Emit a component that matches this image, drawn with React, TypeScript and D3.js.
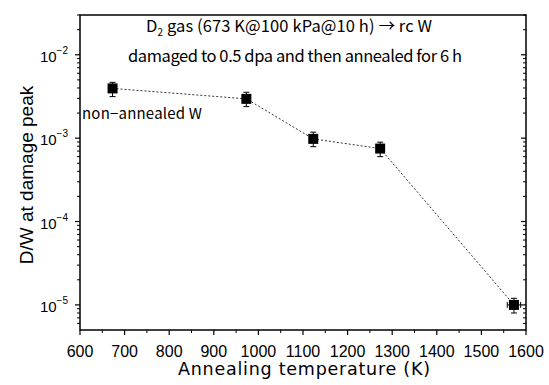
import React from 'react';
import * as d3 from 'd3';

// annealing temperature (K) and D/W at damage peak
const temps = [673, 973, 1123, 1273, 1573];
const dw = [3.95e-3, 2.96e-3, 9.8e-4, 7.5e-4, 1.0e-5];
const dwLow = [3.15e-3, 2.39e-3, 7.9e-4, 6.0e-4, 8.0e-6];
const dwHigh = [4.67e-3, 3.55e-3, 1.18e-3, 8.95e-4, 1.2e-5];
const tempErr = [0, 0, 0, 0, 15];

const xTicks = [600, 700, 800, 900, 1000, 1100, 1200, 1300, 1400, 1500, 1600];
const decades = [-5, -4, -3, -2];

const W = 549;
const H = 385;
const margin = { top: 15, right: 23, bottom: 55, left: 80 };

const labelFont = '"Liberation Sans", Arial, sans-serif';
const jpFont = '"Noto Sans CJK JP", "Liberation Sans", sans-serif';

const App = () => {
  const x = d3.scaleLinear().domain([600, 1600]).range([margin.left, W - margin.right]);
  const y = d3.scaleLog().domain([5e-6, 3e-2]).range([H - margin.bottom, margin.top]);

  const [x0, x1] = x.range();
  const [y0, y1] = y.range();

  // minor ticks on the log axis (2..9 of each decade) inside the domain
  const minor: number[] = [];
  for (let e = -6; e <= -2; e++) {
    for (let m = 2; m <= 9; m++) {
      const v = m * Math.pow(10, e);
      if (v >= 5e-6 && v <= 3e-2) minor.push(v);
    }
  }
  const xMinor = d3.range(650, 1600, 100);

  const line = d3.line<number>()
    .x((_, i) => x(temps[i]))
    .y((d) => y(d));

  return (
    <svg width={W} height={H} style={{ display: 'block', position: 'absolute', left: 0, top: 0 }}>
      <rect width={W} height={H} fill="#fff" />

      {/* frame */}
      <rect x={x0} y={y1} width={x1 - x0} height={y0 - y1} fill="none" stroke="#000" strokeWidth={1.5} />

      {/* left axis ticks (outward), right axis ticks (inward) */}
      {decades.map((e) => (
        <g key={'d' + e}>
          <line x1={x0 - 5} x2={x0} y1={y(Math.pow(10, e))} y2={y(Math.pow(10, e))} stroke="#000" strokeWidth={1.2} />
          <line x1={x1 - 5} x2={x1} y1={y(Math.pow(10, e))} y2={y(Math.pow(10, e))} stroke="#000" strokeWidth={1.2} />
          <text x={x0 - 12} y={y(Math.pow(10, e)) + 7} textAnchor="end" fontFamily={labelFont} fontSize={15}>
            10
            <tspan dy={-8} fontSize={10}>{'\u2212' + Math.abs(e)}</tspan>
          </text>
        </g>
      ))}
      {minor.map((v) => (
        <g key={'m' + v}>
          <line x1={x0 - 3} x2={x0} y1={y(v)} y2={y(v)} stroke="#000" strokeWidth={1} />
          <line x1={x1 - 3} x2={x1} y1={y(v)} y2={y(v)} stroke="#000" strokeWidth={1} />
        </g>
      ))}

      {/* bottom axis */}
      {xTicks.map((t) => (
        <g key={'x' + t}>
          <line x1={x(t)} x2={x(t)} y1={y0} y2={y0 + 5} stroke="#000" strokeWidth={1.2} />
          <text x={x(t)} y={y0 + 27} textAnchor="middle" fontFamily={labelFont} fontSize={16}>{t}</text>
        </g>
      ))}
      {xMinor.map((t) => (
        <line key={'xm' + t} x1={x(t)} x2={x(t)} y1={y0} y2={y0 + 3} stroke="#000" strokeWidth={1} />
      ))}

      {/* data */}
      <path d={line(dw) || ''} fill="none" stroke="#333" strokeWidth={1} strokeDasharray="2,2" />
      {dw.map((d, i) => (
        <g key={'p' + i}>
          <line x1={x(temps[i])} x2={x(temps[i])} y1={y(dwLow[i])} y2={y(dwHigh[i])} stroke="#000" strokeWidth={1} />
          <line x1={x(temps[i]) - 3} x2={x(temps[i]) + 3} y1={y(dwLow[i])} y2={y(dwLow[i])} stroke="#000" strokeWidth={1} />
          <line x1={x(temps[i]) - 3} x2={x(temps[i]) + 3} y1={y(dwHigh[i])} y2={y(dwHigh[i])} stroke="#000" strokeWidth={1} />
          {tempErr[i] > 0 && (
            <g>
              <line x1={x(temps[i] - tempErr[i])} x2={x(temps[i] + tempErr[i])} y1={y(d)} y2={y(d)} stroke="#000" strokeWidth={1} />
              <line x1={x(temps[i] + tempErr[i])} x2={x(temps[i] + tempErr[i])} y1={y(d) - 3} y2={y(d) + 3} stroke="#000" strokeWidth={1} />
              <line x1={x(temps[i] - tempErr[i])} x2={x(temps[i] - tempErr[i])} y1={y(d) - 3} y2={y(d) + 3} stroke="#000" strokeWidth={1} />
            </g>
          )}
          <rect x={x(temps[i]) - 5} y={y(d) - 5} width={10} height={10} fill="#000" />
        </g>
      ))}

      {/* annotations */}
      <text x={146} y={32} fontFamily={jpFont} fontSize={16.5} textLength={286} lengthAdjust="spacing">
        D<tspan dy={4} fontSize={10}>2</tspan>
        <tspan dy={-4}> gas (673 K@100 kPa@10 h) → rc W</tspan>
      </text>
      <text x={128} y={62} fontFamily={jpFont} fontSize={16.5} textLength={334} lengthAdjust="spacing">
        damaged to 0.5 dpa and then annealed for 6 h
      </text>
      <text x={82} y={119} fontFamily={jpFont} fontSize={15} textLength={120} lengthAdjust="spacing">non−annealed W</text>

      {/* axis titles */}
      <text x={178} y={375} fontFamily={'"DejaVu Sans", sans-serif'} fontSize={17.5} textLength={252} lengthAdjust="spacing">Annealing temperature (K)</text>
      <text transform={`translate(33, 175) rotate(-90)`} textAnchor="middle" fontFamily={labelFont} fontSize={19}>
        D/W at damage peak
      </text>
    </svg>
  );
};

export default App;
